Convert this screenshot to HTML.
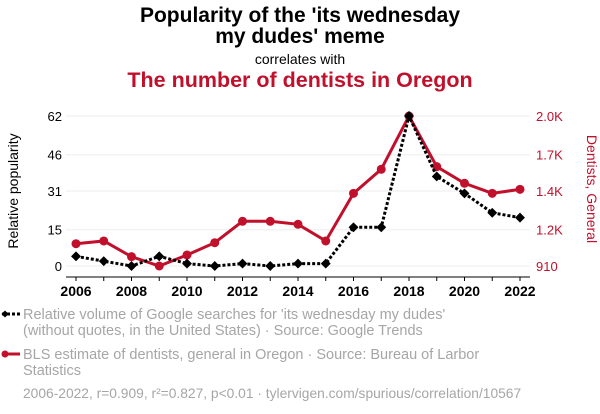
<!DOCTYPE html>
<html><head><meta charset="utf-8"><style>
html,body{margin:0;padding:0;background:#fff;width:600px;height:414px;overflow:hidden;font-family:"Liberation Sans",sans-serif}
</style></head><body>
<svg id="chart" width="600" height="414" viewBox="0 0 600 414" xmlns="http://www.w3.org/2000/svg" font-family="Liberation Sans, sans-serif">
<text x="300" y="22" text-anchor="middle" font-size="21" font-weight="bold" fill="#000">Popularity of the 'its wednesday</text>
<text x="300" y="43" text-anchor="middle" font-size="21" font-weight="bold" fill="#000">my dudes' meme</text>
<text x="300" y="64" text-anchor="middle" font-size="14" fill="#000">correlates with</text>
<text x="300" y="87" text-anchor="middle" font-size="21.5" font-weight="bold" fill="#c0102c">The number of dentists in Oregon</text>
<text transform="translate(18,191) rotate(-90)" text-anchor="middle" font-size="14" fill="#000">Relative popularity</text>
<text transform="translate(587,189) rotate(90)" text-anchor="middle" font-size="14" fill="#c0102c">Dentists, General</text>
<g id="grid"></g><g id="axes"></g><g id="series"></g>
<g>
<line x1="2" y1="314" x2="20" y2="314" stroke="#000" stroke-width="3" stroke-dasharray="3,2"/>
<rect x="2.5" y="311.5" width="5" height="5" transform="rotate(45 5 314)" fill="#000"/>
<text x="23" y="319" font-size="14.5" fill="#a6a6a6">Relative volume of Google searches for 'its wednesday my dudes'</text>
<text x="23" y="335" font-size="14.5" fill="#a6a6a6">(without quotes, in the United States) · Source: Google Trends</text>
</g>
<g>
<line x1="2" y1="354" x2="20" y2="354" stroke="#c0102c" stroke-width="3"/>
<circle cx="5" cy="354" r="3.5" fill="#c0102c"/>
<text x="23" y="359" font-size="14.5" fill="#a6a6a6">BLS estimate of dentists, general in Oregon · Source: Bureau of Larbor</text>
<text x="23" y="375" font-size="14.5" fill="#a6a6a6">Statistics</text>
</g>
<text x="23" y="398" font-size="13.8" fill="#a6a6a6">2006-2022, r=0.909, r²=0.827, p&lt;0.01 · tylervigen.com/spurious/correlation/10567</text>
</svg>
<script>
const years=[2006,2007,2008,2009,2010,2011,2012,2013,2014,2015,2016,2017,2018,2019,2020,2021,2022];
const google=[4,2,0,4,1,0,1,0,1,1,16,16,62,37,30,22,20];
const dentists=[1072,1092,978,910,990,1079,1235,1235,1213,1092,1438,1613,2000,1632,1511,1438,1467];
const leftTicks=[0,15,31,46,62];
const rightTickLabels=["910","1.2K","1.4K","1.7K","2.0K"];
const xTickYears=[2006,2008,2010,2012,2014,2016,2018,2020,2022];
const NS="http://www.w3.org/2000/svg";
const X0=76,X1=520,YT=116,YB=266,LMIN=0,LMAX=62,RMIN=910,RMAX=2000;
function x(yr){return X0+(yr-2006)/(2022-2006)*(X1-X0);}
function yl(v){return YB-(v-LMIN)/(LMAX-LMIN)*(YB-YT);}
function yr(v){return YB-(v-RMIN)/(RMAX-RMIN)*(YB-YT);}
function mk(tag,attrs,parent){const e=document.createElementNS(NS,tag);for(const k in attrs)e.setAttribute(k,attrs[k]);parent.appendChild(e);return e;}
const grid=document.getElementById('grid'),axes=document.getElementById('axes'),ser=document.getElementById('series');
leftTicks.forEach((v,i)=>{
  const g=mk('line',{x1:66,x2:530,y1:yl(v),y2:yl(v),stroke:'#eeeeee','stroke-width':1},grid);
  
  
  const t=mk('text',{x:62,y:yl(v)+5,'text-anchor':'end','font-size':13,fill:'#000'},axes);
  t.textContent=v;
  
  
  const r=mk('text',{x:536,y:yl(v)+5,'font-size':13,fill:'#c0102c'},axes);
  r.textContent=rightTickLabels[i];
  
  
});
const ax=mk('line',{x1:66,x2:530,y1:277,y2:277,stroke:'#000','stroke-width':1},axes);


years.forEach(yv=>{mk('line',{x1:x(yv),x2:x(yv),y1:277,y2:281,stroke:'#000'},axes);});
xTickYears.forEach(yv=>{
  const t=mk('text',{x:x(yv),y:296,'text-anchor':'middle','font-size':14,'font-weight':'bold',fill:'#000'},axes);
  t.textContent=yv;
  
  
});
const rp=mk('polyline',{points:years.map((yv,i)=>x(yv)+','+yr(dentists[i])).join(' '),fill:'none',stroke:'#c0102c','stroke-width':3},ser);


years.forEach((yv,i)=>{
  const c=mk('circle',{cx:x(yv),cy:yr(dentists[i]),r:4.5,fill:'#c0102c'},ser);
  
  
});
const bp=mk('polyline',{points:years.map((yv,i)=>x(yv)+','+yl(google[i])).join(' '),fill:'none',stroke:'#000','stroke-width':3,'stroke-dasharray':'3,2'},ser);


years.forEach((yv,i)=>{
  const cx=x(yv),cy=yl(google[i]);
  const d=mk('rect',{x:cx-3.5,y:cy-3.5,width:7,height:7,fill:'#000',transform:`rotate(45 ${cx} ${cy})`},ser);
  
  
});
</script>
</body></html>
